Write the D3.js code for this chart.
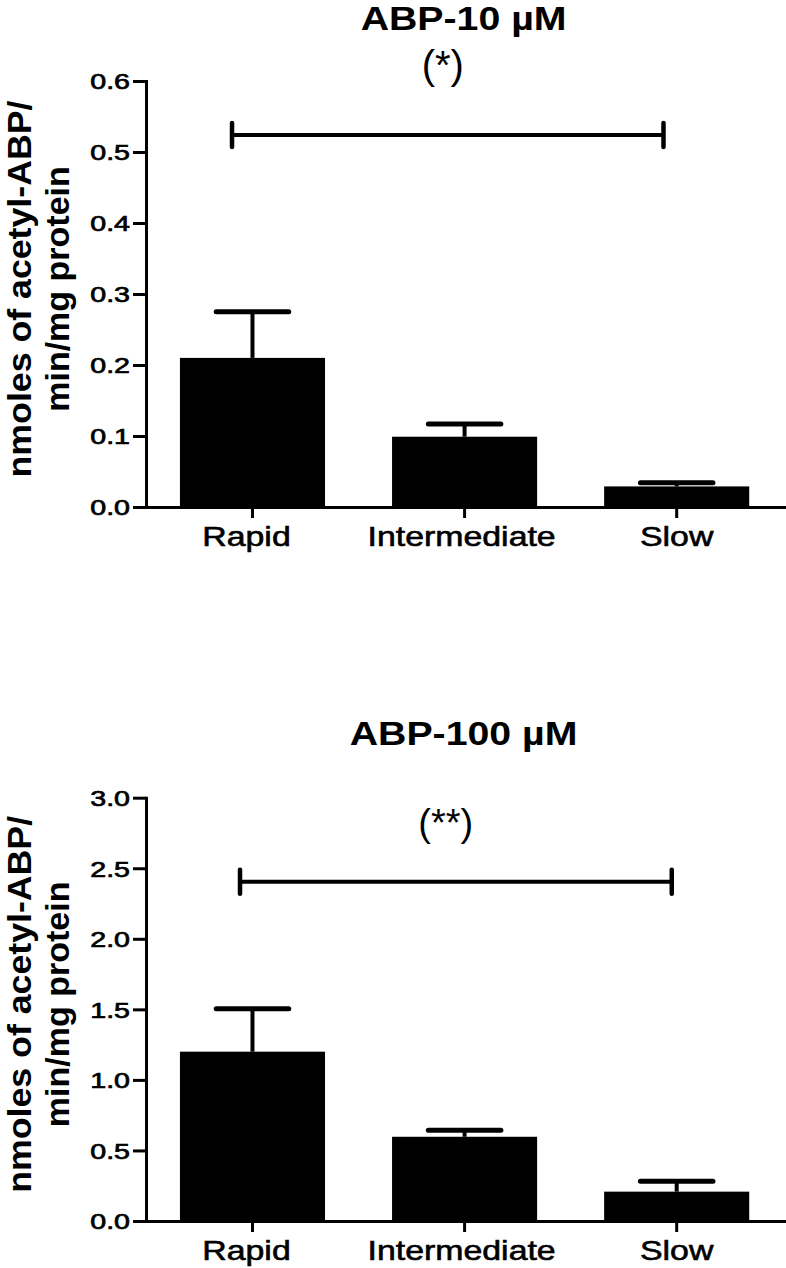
<!DOCTYPE html>
<html><head><meta charset="utf-8">
<script src="https://cdn.jsdelivr.net/npm/d3@7"></script>
<style>html,body{margin:0;padding:0;background:#fff;} svg{display:block}</style>
</head><body>
<svg id="chart" width="786" height="1268"></svg>
<script>
// ---- data ----
const categories = ["Rapid", "Intermediate", "Slow"];
const panelTitles = ["ABP-10 µM", "ABP-100 µM"];
const meansABP10 = [0.21, 0.099, 0.029];
const semABP10 = [0.065, 0.018, 0.005];
const meansABP100 = [1.20, 0.597, 0.208];
const semABP100 = [0.305, 0.046, 0.074];
const yTicksABP10 = [0.0, 0.1, 0.2, 0.3, 0.4, 0.5, 0.6];
const yTicksABP100 = [0.0, 0.5, 1.0, 1.5, 2.0, 2.5, 3.0];
const yMaxes = [0.6, 3.0];
const sigLabels = ["(*)", "(**)"];
const sigLevels = [0.524, 2.405];
const sigFrom = "Rapid", sigTo = "Slow";
const yLabelLines = ["nmoles of acetyl-ABP/", "min/mg protein"];

// ---- layout ----
const FONT = "'Liberation Sans', Arial, Helvetica, sans-serif";
const panels = [
  {title: panelTitles[0], means: meansABP10, sem: semABP10, ticks: yTicksABP10, max: yMaxes[0],
   sig: sigLabels[0], sigLevel: sigLevels[0], y0: 507, y1: 81, titleY: 30,
   sigTextY: 79, sigSize: 40, sigFrac: 0.35, brL: 0.359, brR: 0.409},
  {title: panelTitles[1], means: meansABP100, sem: semABP100, ticks: yTicksABP100, max: yMaxes[1],
   sig: sigLabels[1], sigLevel: sigLevels[1], y0: 1221, y1: 797.7, titleY: 745,
   sigTextY: 836, sigSize: 38, sigFrac: 0.37, brL: 0.414, brR: 0.466}
];

const svg = d3.select("#chart");
svg.append("rect").attr("width", 786).attr("height", 1268).attr("fill", "#fff");

panels.forEach(p => {
  const g = svg.append("g");
  const x = d3.scaleBand().domain(categories).range([146, 786])
    .paddingInner(0.316).paddingOuter(0.1667).align(0.48);
  const y = d3.scaleLinear().domain([0, p.max]).range([p.y0, p.y1]);
  const bw = x.bandwidth();
  const cx = d => x(d) + bw / 2;

  // bars
  g.selectAll("rect.bar").data(categories).join("rect").attr("class", "bar")
    .attr("x", d => x(d)).attr("y", (d, i) => y(p.means[i]))
    .attr("width", bw).attr("height", (d, i) => y(0) - y(p.means[i]))
    .attr("fill", "#000");

  // error bars (upper only)
  g.selectAll("line.stem").data(categories).join("line").attr("class", "stem")
    .attr("x1", cx).attr("x2", cx)
    .attr("y1", (d, i) => y(p.means[i])).attr("y2", (d, i) => y(p.means[i] + p.sem[i]))
    .attr("stroke", "#000").attr("stroke-width", 4);
  g.selectAll("line.cap").data(categories).join("line").attr("class", "cap")
    .attr("x1", d => cx(d) - bw * 0.25).attr("x2", d => cx(d) + bw * 0.25)
    .attr("y1", (d, i) => y(p.means[i] + p.sem[i])).attr("y2", (d, i) => y(p.means[i] + p.sem[i]))
    .attr("stroke", "#000").attr("stroke-width", 5).attr("stroke-linecap", "round");

  // y axis
  const ga = g.append("g").attr("transform", "translate(146,0)")
    .call(d3.axisLeft(y).tickValues(p.ticks).tickFormat(d3.format(".1f")).tickSize(13).tickSizeOuter(0));
  ga.attr("font-size", null).attr("font-family", null);
  ga.select(".domain").attr("stroke", "#000").attr("stroke-width", 3).attr("stroke-linecap", "square");
  ga.selectAll(".tick line").attr("stroke", "#000").attr("stroke-width", 3);
  ga.selectAll(".tick text").attr("x", null).attr("dy", "0.36em")
    .attr("transform", "translate(-16,0) scale(1.3,1)")
    .attr("font-size", 22).attr("font-family", FONT).attr("fill", "#000")
    .attr("stroke", "#000").attr("stroke-width", 0.7).attr("text-anchor", "end");

  // x axis
  const gx = g.append("g").attr("transform", `translate(0,${p.y0})`)
    .call(d3.axisBottom(x).tickSize(11).tickSizeOuter(0));
  gx.attr("font-size", null).attr("font-family", null);
  gx.select(".domain").attr("stroke", "#000").attr("stroke-width", 3);
  gx.selectAll(".tick line").attr("stroke", "#000").attr("stroke-width", 3);
  gx.selectAll(".tick text").attr("y", null).attr("dy", null)
    .attr("transform", (d, i) => `translate(${i === 0 ? -6 : (i === 1 ? -3 : 0)},39) scale(1.21,1)`)
    .attr("font-size", 28).attr("font-family", FONT).attr("fill", "#000")
    .attr("stroke", "#000").attr("stroke-width", 0.6).attr("text-anchor", "middle");

  // significance bracket
  const by = y(p.sigLevel);
  const bx1 = x(sigFrom) + bw * p.brL, bx2 = x(sigTo) + bw * p.brR;
  g.append("line").attr("x1", bx1).attr("x2", bx2).attr("y1", by).attr("y2", by)
    .attr("stroke", "#000").attr("stroke-width", 4);
  [bx1, bx2].forEach(bx => {
    g.append("line").attr("x1", bx).attr("x2", bx).attr("y1", by - 12).attr("y2", by + 12)
      .attr("stroke", "#000").attr("stroke-width", 4.5).attr("stroke-linecap", "round");
  });
  g.append("text").text(p.sig)
    .attr("transform", `translate(${x("Intermediate") + bw * p.sigFrac},${p.sigTextY})`)
    .attr("text-anchor", "middle").attr("font-family", FONT).attr("font-size", p.sigSize).attr("fill", "#000");

  // title
  g.append("text").text(p.title)
    .attr("transform", `translate(${cx("Intermediate") - 1},${p.titleY}) scale(1.19,1)`)
    .attr("text-anchor", "middle").attr("font-family", FONT).attr("font-weight", "bold")
    .attr("font-size", 33).attr("fill", "#000");

  // y axis label (two centred lines)
  const mid = (p.y0 + p.y1) / 2 - 5;
  g.append("text").text(yLabelLines[0])
    .attr("transform", `translate(31,${mid}) rotate(-90) scale(1.05,1)`)
    .attr("text-anchor", "middle").attr("font-family", FONT).attr("font-weight", "bold")
    .attr("font-size", 34).attr("fill", "#000");
  g.append("text").text(yLabelLines[1])
    .attr("transform", `translate(69,${mid}) rotate(-90)`)
    .attr("text-anchor", "middle").attr("font-family", FONT).attr("font-weight", "bold")
    .attr("font-size", 34).attr("fill", "#000");
});
</script>
</body></html>
